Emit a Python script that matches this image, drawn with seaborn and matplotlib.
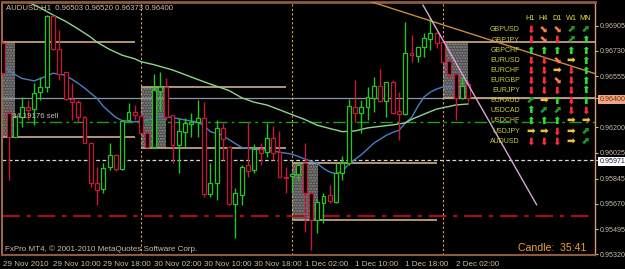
import numpy as np
import pandas as pd
import matplotlib
matplotlib.use("Agg")
import matplotlib.pyplot as plt
from matplotlib.patches import Rectangle
import seaborn as sns

# ---------------- data ----------------
symbol = "AUDUSD,H1"
ohlc_header = ["0.96503", "0.96520", "0.96373", "0.96400"]

# hourly candles, prices in points (1 point = 0.00001)
opens = [96785, 96300, 96133, 96272, 96341, 96327, 96445, 96480, 96972, 96743,
         96584, 96397, 96376, 96272, 96092, 95814, 95773, 95925, 96009, 95911,
         96251, 96307, 96279, 96161, 96064, 96452, 96480, 96286, 96078, 96168,
         96224, 96237, 96265, 95738, 95814, 96196, 96064, 95669, 95731, 95939,
         95904, 96050, 96029, 96126, 96029, 95856, 95863, 95877, 95953, 95745,
         95558, 95676, 95731, 95683, 95884, 95953, 96341, 96300, 96341, 96404,
         96487, 96383, 96515, 96314, 96293, 96716, 96695, 96757, 96813, 96854,
         96792, 96660, 96570, 96404, 96503]
highs = [96792, 96321, 96286, 96411, 96390, 96508, 96549, 96979, 96979, 96875,
         96584, 96508, 96390, 96279, 96099, 95925, 95953, 96092, 96016, 96251,
         96369, 96355, 96286, 96168, 96570, 96584, 96542, 96286, 96265, 96265,
         96300, 96390, 96376, 95953, 96251, 96231, 96071, 95780, 95939, 96237,
         96085, 96092, 96231, 96210, 96175, 95925, 95884, 95953, 96092, 95752,
         95697, 95745, 95800, 95953, 96002, 96397, 96529, 96390, 96480, 96549,
         96605, 96515, 96529, 96445, 96931, 96841, 96757, 96854, 96958, 96861,
         96792, 96667, 96577, 96549, 96520]
lows = [96563, 95835, 96133, 96203, 96251, 96217, 96390, 96445, 96737, 96529,
        96390, 96251, 96237, 96092, 95787, 95662, 95745, 95904, 95898, 95904,
        96237, 96251, 96161, 96057, 96057, 96321, 96251, 95953, 95884, 96064,
        96133, 96133, 95717, 95717, 95697, 95974, 95662, 95433, 95662, 95856,
        95884, 95939, 95995, 95974, 95856, 95745, 95745, 95835, 95475, 95350,
        95468, 95537, 95676, 95676, 95835, 95939, 96237, 96161, 96251, 96307,
        96376, 96272, 96293, 96113, 96286, 96653, 96653, 96688, 96737, 96750,
        96646, 96549, 96251, 96397, 96373]
closes = [96577, 96133, 96272, 96341, 96321, 96438, 96480, 96972, 96743, 96570,
          96397, 96376, 96272, 96092, 95814, 95766, 95918, 96009, 95911, 96244,
          96307, 96286, 96161, 96064, 96459, 96480, 96272, 96078, 96175, 96231,
          96237, 96265, 95738, 95814, 96196, 96119, 95669, 95745, 95925, 95898,
          96050, 96022, 96126, 96022, 95856, 95849, 95877, 95939, 95745, 95558,
          95683, 95724, 95690, 95884, 95953, 96348, 96300, 96341, 96411, 96487,
          96383, 96515, 96300, 96293, 96716, 96702, 96757, 96820, 96854, 96785,
          96653, 96570, 96404, 96487, 96400]

# moving averages read at selected bars
blue_ma_bars = [0, 1, 3, 5, 7, 8, 10, 12, 13, 15, 16, 18, 19, 21, 23, 25, 27, 29, 31, 32,
                33, 35, 36, 38, 40, 42, 44, 46, 47, 49, 50, 51, 52, 53, 54, 55, 57, 59,
                61, 62, 63, 64, 65, 66, 67, 68, 69, 70, 72, 74]
blue_ma_vals = [96645, 96590, 96540, 96522, 96556, 96575, 96562, 96505, 96473, 96400,
                96345, 96268, 96247, 96238, 96251, 96278, 96268, 96251, 96237, 96210,
                96170, 96145, 96115, 96060, 96048, 96042, 96028, 96014, 95998, 95965,
                95950, 95915, 95890, 95878, 95895, 95945, 96010, 96090, 96145, 96165,
                96180, 96230, 96268, 96345, 96411, 96445, 96466, 96480, 96480, 96466]
green_ma_bars = [2, 4, 6, 8, 10, 12, 14, 15, 17, 19, 21, 22, 24, 27, 29, 31, 33, 36, 38,
                 40, 42, 44, 46, 48, 50, 52, 54, 56, 58, 60, 62, 64, 65, 67, 69, 71, 72, 74]
green_ma_vals = [97120, 97069, 97028, 96979, 96935, 96882, 96825, 96790, 96740, 96700,
                 96675, 96655, 96635, 96598, 96565, 96532, 96500, 96455, 96405, 96374,
                 96355, 96322, 96288, 96255, 96215, 96192, 96170, 96175, 96196, 96207,
                 96217, 96231, 96255, 96292, 96327, 96345, 96355, 96362]

# range boxes (bar from, bar to, low, high, level line end bar)
box_from = [-1.0, 22.0, 46.0, 70.0]
box_to = [2.0, 26.0, 50.1, 74.0]
box_low = [0.96133, 0.96057, 0.95558, 0.96404]
box_high = [0.96792, 0.96480, 0.95953, 0.96792]
box_line_end = [21.0, 45.0, 69.0, 94.2]

# trend lines (bar, price)
orange_tl_bars = [58.7, 94.2]
orange_tl_prices = [0.97069, 0.96572]
pink_tl_bars = [66.8, 84.9]
pink_tl_prices = [0.97049, 0.95662]

bid_price = 0.96400
white_level = 0.95971
green_order_level = 0.96239
red_level = 0.95586
separator_bars = [22, 46, 70]
order_label = "34.19176 sell"

date_tick_bars = [0, 8, 16, 24, 32, 40, 48, 56, 64, 72]
date_tick_labels = ["29 Nov 2010", "29 Nov 10:00", "29 Nov 18:00", "30 Nov 02:00",
                    "30 Nov 10:00", "30 Nov 18:00", "1 Dec 02:00", "1 Dec 10:00",
                    "1 Dec 18:00", "2 Dec 02:00"]
price_ticks = [0.96905, 0.96730, 0.96555, 0.96400, 0.96200, 0.96025, 0.95971,
               0.95845, 0.95670, 0.95495, 0.95320]
price_tick_labels = ["0.96905", "0.96730", "0.96555", "0.96400", "0.96200", "0.96025",
                     "0.95971", "0.95845", "0.95670", "0.95495", "0.95320"]

pairs = ["GBPUSD", "GBPJPY", "GBPCHF", "EURUSD", "EURCHF", "EURGBP", "EURJPY",
         "EURAUD", "USDCAD", "USDCHF", "USDJPY", "AUDUSD"]
timeframes = ["H1", "H4", "D1", "W1", "MN"]
signals = ["Dddua", "DdDuU", "UUUUU", "DDdRU", "DDRDU", "DDdDU", "DDDDU",
           "uRUDU", "UuuDD", "UUURR", "RRDRu", "DDDRu"]
candle_timer = "Candle:  35:41"
copyright_text = "FxPro MT4, \u00a9 2001-2010 MetaQuotes Software Corp."

# ---------------- style ----------------
sns.set_style("dark", {"axes.facecolor": "black", "figure.facecolor": "black"})
plt.rcParams["font.family"] = ["Liberation Sans", "DejaVu Sans"]
plt.rcParams["hatch.linewidth"] = 1.0

W, H = 625, 269
fig = plt.figure(figsize=(W / 100, H / 100), dpi=100, facecolor="black")
ax = fig.add_axes([2 / W, 1 - 255 / H, (595 - 2) / W, (255 - 2) / H], facecolor="black")
ax.grid(False)

def fx(x):
    return x / W

def fy(y):
    return 1 - y / H

df = pd.DataFrame({"bar": np.arange(len(opens)),
                   "open": np.array(opens) / 1e5, "high": np.array(highs) / 1e5,
                   "low": np.array(lows) / 1e5, "close": np.array(closes) / 1e5})
df["bull"] = df["close"] >= df["open"]

BULL = "#22c822"
BEAR = "#c8183a"
TAN = "#c0a07e"

# range boxes
for b0, b1, lo, hi, le in zip(box_from, box_to, box_low, box_high, box_line_end):
    ax.add_patch(Rectangle((b0, lo), b1 - b0, hi - lo, facecolor="#4c4c4c",
                           edgecolor="#8c8c8c", linewidth=0, hatch="......", zorder=1))
    ax.hlines([lo, hi], b0, le, colors=TAN, linewidth=1.3, zorder=1.5)

# horizontal levels
ax.axhline(bid_price, color="#8a96a4", lw=0.9, zorder=1.2)
ax.axhline(white_level, color="#d8d8d8", lw=0.9, ls=(0, (3, 2)), zorder=1.2)
ax.axhline(green_order_level, color="#1aa01a", lw=1.0, ls=(0, (9, 3, 2, 3)), zorder=1.2)
ax.axhline(red_level, color="#a0101a", lw=1.6, ls=(0, (8, 3, 2, 3)), zorder=1.2)
for sb in separator_bars:
    ax.axvline(sb, color="#e0a060", lw=0.8, ls=(0, (2, 2)), zorder=1.2)

# moving averages
sns.lineplot(x=blue_ma_bars, y=np.array(blue_ma_vals) / 1e5, ax=ax, color="#4a7ec8",
             lw=1.0, zorder=2)
sns.lineplot(x=green_ma_bars, y=np.array(green_ma_vals) / 1e5, ax=ax, color="#8fd48f",
             lw=1.0, zorder=2)

# candles
for bull, col in [(True, BULL), (False, BEAR)]:
    d = df[df["bull"] == bull]
    ax.vlines(d["bar"], d["low"], d["high"], colors=col, lw=1.0, zorder=3)
    body_lo = np.minimum(d["open"], d["close"])
    body_h = np.maximum(np.abs(d["close"] - d["open"]), 0.00002)
    ax.bar(d["bar"], body_h, bottom=body_lo, width=0.62, facecolor="black",
           edgecolor=col, linewidth=0.9, zorder=4)

# trend lines
ax.plot(orange_tl_bars, orange_tl_prices, color="#c88a40", lw=1.0, zorder=5)
ax.plot(pink_tl_bars, pink_tl_prices, color="#d8a8d8", lw=1.0, zorder=5)

ax.set_xlim((2 - 2.7) / 6.29, (595 - 2.7) / 6.29)
ax.set_ylim(0.95315, 0.97069)

# axes / spines
for side, col, lw in [("top", "#8c5a3c", 2.0), ("bottom", "#8c5a3c", 1.5),
                      ("left", "#9a6848", 1.5), ("right", "#e09a68", 1.0)]:
    ax.spines[side].set_visible(True)
    ax.spines[side].set_color(col)
    ax.spines[side].set_linewidth(lw)

ax.yaxis.tick_right()
ax.set_yticks(price_ticks)
ax.set_yticklabels(price_tick_labels)
ax.tick_params(axis="y", colors="#c8bca8", labelsize=5.1, length=2.0, width=0.8,
               pad=1.2, direction="out", labelcolor="#c8bca8")
ax.set_xticks(date_tick_bars)
ax.set_xticklabels(date_tick_labels, ha="left")
ax.tick_params(axis="x", colors="#c8bca8", labelsize=5.8, length=2.5, width=0.8,
               pad=1.5, direction="out", labelcolor="#c8bca8")
ax.set_xlabel("")
ax.set_ylabel("")

for lab in ax.get_yticklabels():
    t = lab.get_text()
    if t == "0.96400":
        lab.set_bbox(dict(facecolor="#f4a582", edgecolor="none", pad=0.8))
        lab.set_color("#6a2e10")
    elif t == "0.95971":
        lab.set_bbox(dict(facecolor="white", edgecolor="none", pad=0.8))
        lab.set_color("#102040")

# texts
fig.text(fx(6), fy(8), symbol + "  " + " ".join(ohlc_header), color="#d0c0a8",
         fontsize=5.6, va="center", ha="left")
fig.text(fx(5), fy(249), copyright_text, color="#d0c0a8", fontsize=5.8,
         va="center", ha="left")
fig.text(fx(518), fy(248), candle_timer, color="#f0a030", fontsize=7.6,
         va="center", ha="left")
fig.text(fx(12), fy(117), order_label, color="#c8c0b0", fontsize=5.6,
         va="center", ha="left")

# signal table
col_x = [530.5, 543.5, 557, 571, 585.5]
row_y = [29.3, 40, 50.5, 60.8, 70.8, 80.8, 90.5, 100.7, 110.5, 120.8, 131.5, 141.5]
glyphs = {"D": ("\u2b07", "#ff2a3a"), "d": ("\u2b0a", "#ff7a50"),
          "U": ("\u2b06", "#2ee02e"), "u": ("\u2b08", "#1e9a2a"),
          "a": ("\u2b08", "#1e9a2a"), "R": ("\u27a1", "#f0c040")}
for cx, tf in zip(col_x, timeframes):
    fig.text(fx(cx), fy(18.5), tf, color="#e0e040", fontsize=5.2, ha="center", va="center")
for ry, pair, sig in zip(row_y, pairs, signals):
    fig.text(fx(520), fy(ry), pair, color="#cccc44", fontsize=5.0, ha="right",
             va="center")
    for cx, s in zip(col_x, sig):
        g, c = glyphs[s]
        fig.text(fx(cx), fy(ry), g, color=c, fontsize=7.5, ha="center", va="center",
                 family=["DejaVu Sans"], fontweight="bold")

fig.savefig("out.png", dpi=100, facecolor="black")
